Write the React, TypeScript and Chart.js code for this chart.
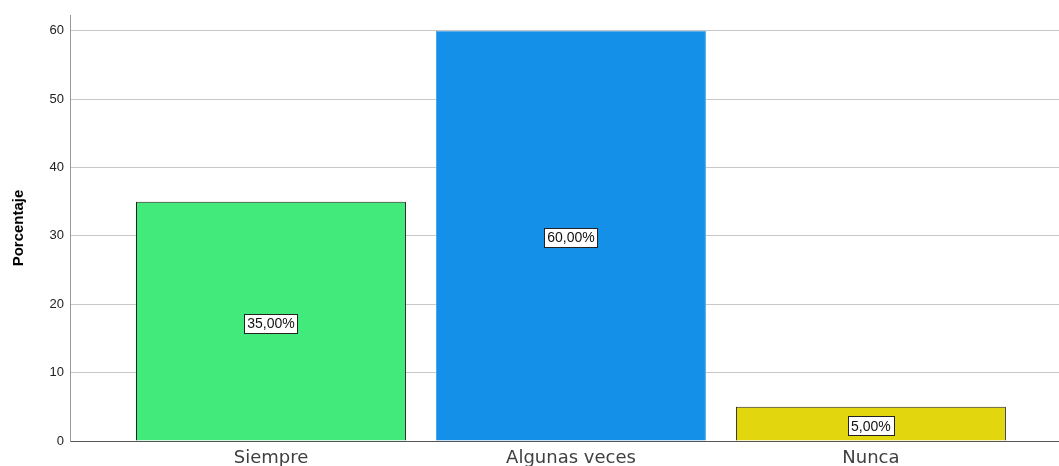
import { useEffect, useRef } from "react";
import { Chart, registerables } from "chart.js";

Chart.register(...registerables);

const categories = ["Siempre", "Algunas veces", "Nunca"];
const percentages = [35, 60, 5];
const valueLabels = ["35,00%", "60,00%", "5,00%"];
const barColors = ["#42E97B", "#1490E8", "#E2D60E"];
const barBorders = ["#222222", "#4aa3ea", "#222222"];
const yAxisTitle = "Porcentaje";

const labelPlugin = {
  id: "boxLabels",
  afterDatasetsDraw(chart: any) {
    const ctx = chart.ctx;
    const meta = chart.getDatasetMeta(0);
    ctx.save();
    ctx.font = "14px 'Liberation Sans', Arial, sans-serif";
    ctx.textAlign = "center";
    ctx.textBaseline = "middle";
    meta.data.forEach((bar: any, i: number) => {
      const cx = bar.x;
      const cy = (bar.y + bar.base) / 2 + 2;
      const text = valueLabels[i];
      const w = ctx.measureText(text).width + 6;
      const h = 19;
      const left = Math.round(cx - w / 2) + 0.5;
      const top = Math.round(cy - h / 2) + 0.5;
      ctx.fillStyle = "#ffffff";
      ctx.fillRect(left, top, Math.round(w), h);
      ctx.strokeStyle = "#222222";
      ctx.lineWidth = 1;
      ctx.strokeRect(left, top, Math.round(w), h);
      ctx.fillStyle = "#111111";
      ctx.fillText(text, cx, cy + 1);
    });
    ctx.restore();
  },
};

export default function App() {
  const ref = useRef<HTMLCanvasElement>(null);

  useEffect(() => {
    document.body.style.margin = "0";
    document.documentElement.style.overflow = "hidden";
    const canvas = ref.current;
    if (!canvas) return;
    const chart = new Chart(canvas, {
      type: "bar",
      data: {
        datasets: [
          {
            data: percentages.map((v, i) => ({ x: i, y: v })),
            backgroundColor: barColors,
            borderColor: barBorders,
            borderWidth: 1,
            barPercentage: 0.9,
            categoryPercentage: 1.0,
          },
        ],
      },
      options: {
        responsive: false,
        animation: false,
        events: [],
        layout: { padding: { top: 15, left: 0, right: 0, bottom: 0 } },
        plugins: {
          legend: { display: false },
          tooltip: { enabled: false },
        },
        scales: {
          x: {
            type: "linear",
            min: -0.67,
            max: 2.627,
            bounds: "data",
            offset: false,
            grace: 0,
            afterBuildTicks: (scale: any) => {
              scale.ticks = categories.map((_, i) => ({ value: i }));
            },
            afterFit: (scale: any) => {
              scale.height = 25;
            },
            grid: { display: false, drawTicks: false, offset: false },
            border: { display: true, color: "#555555", width: 1 },
            ticks: {
              autoSkip: false,
              maxRotation: 0,
              minRotation: 0,
              padding: 7,
              color: "#404040",
              font: { family: "'DejaVu Sans', sans-serif", size: 18 },
              callback: (value: any) => categories[Math.round(Number(value))] ?? "",
            },
          },
          y: {
            min: 0,
            max: 62.3,
            afterFit: (scale: any) => {
              scale.width = 70;
            },
            grid: { color: "#c8c8c8", drawTicks: false, lineWidth: 1 },
            border: { display: true, color: "#999999", width: 1 },
            ticks: {
              stepSize: 10,
              includeBounds: false,
              padding: 6,
              color: "#222222",
              font: { family: "'Liberation Sans', Arial, sans-serif", size: 13 },
            },
            title: {
              display: true,
              text: yAxisTitle,
              color: "#000000",
              padding: { top: 10, bottom: 0 },
              font: { family: "'Liberation Sans', Arial, sans-serif", size: 15, weight: "bold" },
            },
          },
        },
      },
      plugins: [labelPlugin],
    });
    return () => chart.destroy();
  }, []);

  return (
    <div style={{ width: 1059, height: 466, overflow: "hidden" }}>
      <canvas ref={ref} width={1059} height={466} style={{ display: "block" }} />
    </div>
  );
}
